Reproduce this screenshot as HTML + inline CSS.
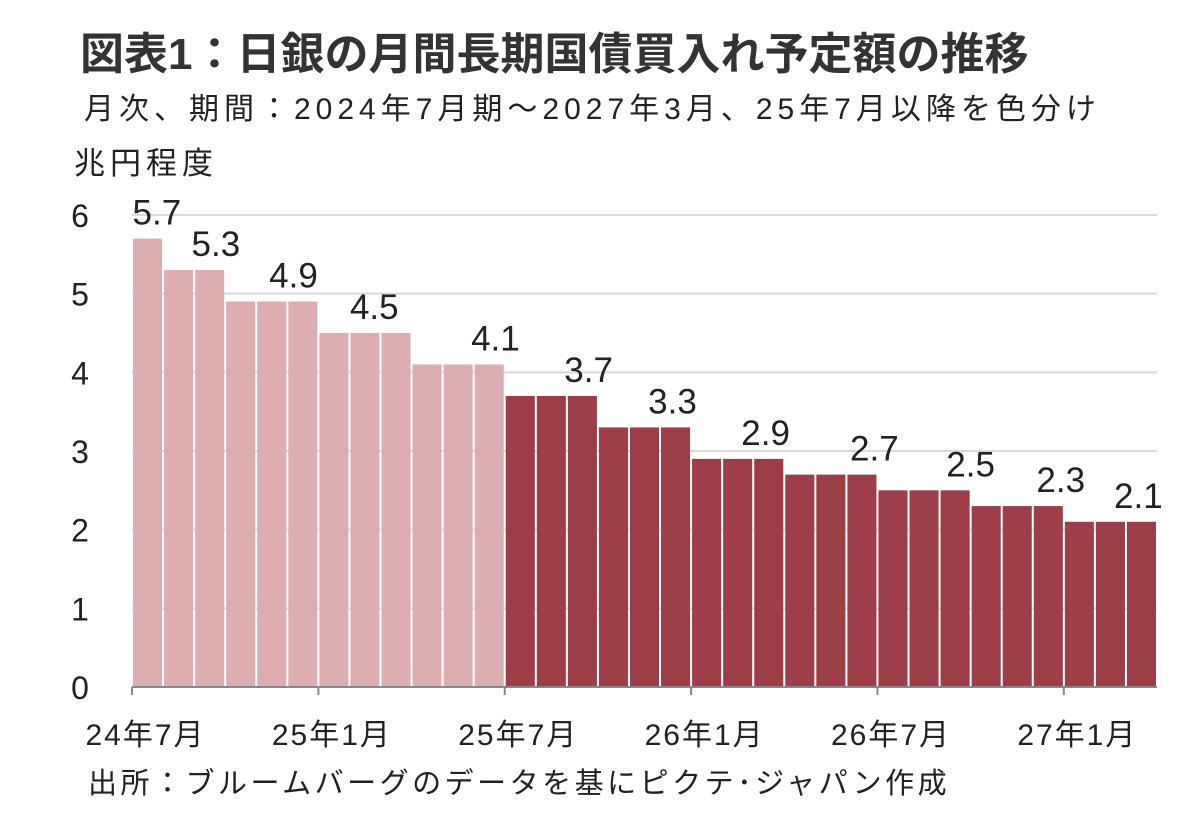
<!DOCTYPE html>
<html><head><meta charset="utf-8"><style>
body{margin:0;background:#fff;width:1196px;height:835px;overflow:hidden;font-family:"Liberation Sans","Noto Sans CJK JP",sans-serif;color:#222}
.t{position:absolute;white-space:nowrap}
</style></head><body>
<div class="t" style="left:80px;top:18px;font-size:44px;font-weight:bold;color:#333">図表1：日銀の月間長期国債買入れ予定額の推移</div>
<div class="t" style="left:84px;top:84px;font-size:30px;letter-spacing:5px">月次、期間：2024年7月期～2027年3月、25年7月以降を色分け</div>
<div class="t" style="left:74px;top:138px;font-size:31px;letter-spacing:5px">兆円程度</div>
<div class="t" style="left:88px;top:760px;font-size:29px;letter-spacing:3.5px">出所：ブルームバーグのデータを基にピクテ･ジャパン作成</div>
<svg id="c" width="1196" height="835" style="position:absolute;left:0;top:0"></svg>
<script>
const categories=["24年7月","24年8月","24年9月","24年10月","24年11月","24年12月","25年1月","25年2月","25年3月","25年4月","25年5月","25年6月","25年7月","25年8月","25年9月","25年10月","25年11月","25年12月","26年1月","26年2月","26年3月","26年4月","26年5月","26年6月","26年7月","26年8月","26年9月","26年10月","26年11月","26年12月","27年1月","27年2月","27年3月"];
const values=[5.7,5.3,5.3,4.9,4.9,4.9,4.5,4.5,4.5,4.1,4.1,4.1,3.7,3.7,3.7,3.3,3.3,3.3,2.9,2.9,2.9,2.7,2.7,2.7,2.5,2.5,2.5,2.3,2.3,2.3,2.1,2.1,2.1];
const labelTexts=["5.7","5.3","4.9","4.5","4.1","3.7","3.3","2.9","2.7","2.5","2.3","2.1"];
const labelValues=[5.7,5.3,4.9,4.5,4.1,3.7,3.3,2.9,2.7,2.5,2.3,2.1];
const labelIdx=[0.3,2.2,4.7,7.3,11.2,14.2,16.9,19.9,23.4,26.5,29.4,31.9];
const yTicks=[0,1,2,3,4,5,6];
const xTickLabels=["24年7月","25年1月","25年7月","26年1月","26年7月","27年1月"];
const xTickIdx=[0,6,12,18,24,30];
const splitIdx=12;
const svg=document.getElementById('c');const NS='http://www.w3.org/2000/svg';
const x0=132,x1=1157,y0=687,yTop=215,yMax=6;
const slot=(x1-x0)/categories.length;
const X=i=>x0+i*slot, Y=v=>y0-(v/yMax)*(y0-yTop);
function mk(t,a,p){const e=document.createElementNS(NS,t);for(const k in a)e.setAttribute(k,a[k]);(p||svg).appendChild(e);return e;}
yTicks.forEach(v=>{
 if(v>0){const g=mk('line',{x1:x0,x2:x1,y1:Y(v),y2:Y(v),stroke:'#d9d9d9','stroke-width':2});
 
 }
 const t=mk('text',{x:80,y:Y(v)+12,'font-size':32,'text-anchor':'middle',fill:'#222'});t.textContent=v;
 
 
});
values.forEach((v,i)=>{
 const r=mk('rect',{x:X(i)+1,y:Y(v),width:slot-2,height:y0-Y(v),fill:i<splitIdx?'#dcaeb1':'#9d3d47'});
 
 
});
const ax=mk('line',{x1:x0,x2:x1,y1:y0,y2:y0,stroke:'#888','stroke-width':2});


xTickIdx.forEach((ix,k)=>{
 const tk=mk('line',{x1:X(ix),x2:X(ix),y1:y0,y2:y0+8,stroke:'#888','stroke-width':2});
 
 
 const t=mk('text',{x:X(ix)+slot/2-2,y:y0+58,'font-size':30,'letter-spacing':2,'text-anchor':'middle',fill:'#222'});t.textContent=xTickLabels[k];
 
 
});
labelTexts.forEach((s,k)=>{
 const t=mk('text',{x:X(labelIdx[k])+slot/2,y:Y(labelValues[k])-14,'font-size':35,'text-anchor':'middle',fill:'#222'});t.textContent=s;
 
 
});
</script>
</body></html>
